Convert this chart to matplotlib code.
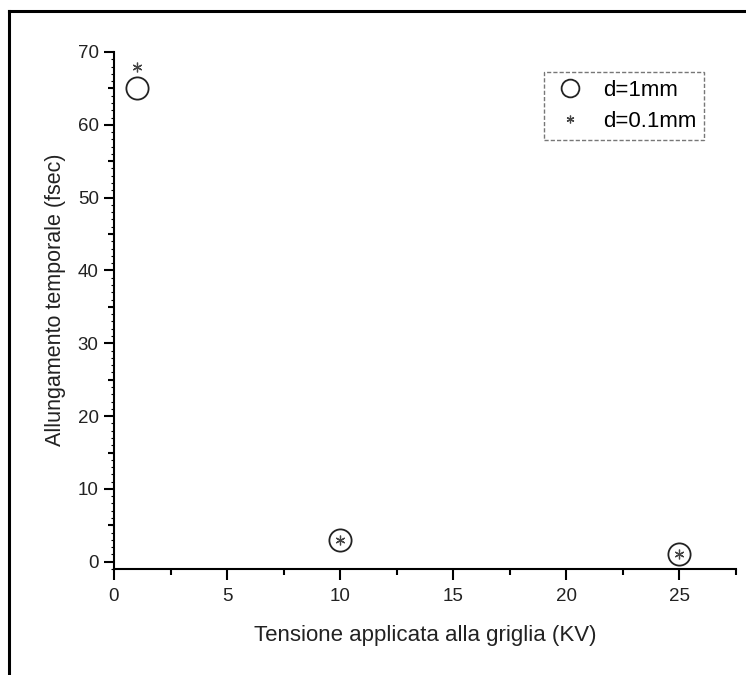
import matplotlib
matplotlib.use('Agg')
import matplotlib.pyplot as plt
from matplotlib.lines import Line2D
from matplotlib.ticker import MultipleLocator

plt.rcParams['font.family'] = ['Liberation Sans', 'DejaVu Sans']

# grid voltage (KV) and time stretch (fsec)
tensione = [1, 10, 25]
allung_1mm = [65, 3, 1]
allung_01mm = [68, 3, 1]

fig = plt.figure(figsize=(7.46, 6.75), dpi=100)
ax = fig.add_axes([0.1528, 0.157, 0.8334, 0.766])

# asterisk marker: 6 spokes
star = (6, 2, 0)
ax.plot(tensione, allung_1mm, linestyle='none', marker='o', ms=16,
        mfc='none', mec='#222222', mew=1.3, label='d=1mm')
ax.plot(tensione, allung_01mm, linestyle='none', marker=star, ms=7,
        mec='#444444', mew=0.9, label='d=0.1mm')

ax.set_xlim(0, 27.5)
ax.set_ylim(-1, 70)

ax.spines['top'].set_visible(False)
ax.spines['right'].set_visible(False)
ax.spines['left'].set_linewidth(1.5)
ax.spines['bottom'].set_linewidth(1.5)

ax.xaxis.set_major_locator(MultipleLocator(5))
ax.xaxis.set_minor_locator(MultipleLocator(2.5))
ax.yaxis.set_major_locator(MultipleLocator(10))
ax.yaxis.set_minor_locator(MultipleLocator(1))
ax.tick_params(axis='x', which='major', direction='out', length=8, width=1.5,
               pad=6, labelsize=13.5, labelcolor='#222222')
ax.tick_params(axis='x', which='minor', direction='out', length=4, width=1.5)
ax.tick_params(axis='y', which='major', direction='out', length=7, width=1.5,
               pad=4, labelsize=13.5, labelcolor='#222222')
ax.tick_params(axis='y', which='minor', direction='out', length=2, width=0.8)

# medium ticks every 5 on the y axis
sec = ax.secondary_yaxis('left')
sec.set_yticks([5, 15, 25, 35, 45, 55, 65])
sec.tick_params(direction='out', length=4, width=1.5, labelleft=False)
sec.spines['left'].set_visible(False)

ax.set_xlabel('Tensione applicata alla griglia (KV)', fontsize=16,
              color='#222222', labelpad=14)
ax.set_ylabel('Allungamento temporale (fsec)', fontsize=15.5, color='#222222')
ax.yaxis.set_label_coords(-0.077, 0.52)

leg = ax.legend(loc='upper right', bbox_to_anchor=(0.949, 0.961),
                borderaxespad=0, fontsize=16, fancybox=False, framealpha=1,
                edgecolor='#777777', borderpad=0.35, handlelength=1.6,
                handletextpad=0.7, labelspacing=0.45, markerscale=0.8)
leg.get_frame().set_linestyle((0, (3, 1.5)))
leg.get_frame().set_linewidth(1.0)

# outer frame
fig.add_artist(Line2D([0.0114, 0.0114], [0.0, 0.9837], color='black', lw=2.2,
                      transform=fig.transFigure))
fig.add_artist(Line2D([0.0114, 1.0], [0.9837, 0.9837], color='black', lw=2.2,
                      transform=fig.transFigure))

fig.savefig('out.png', dpi=100)
